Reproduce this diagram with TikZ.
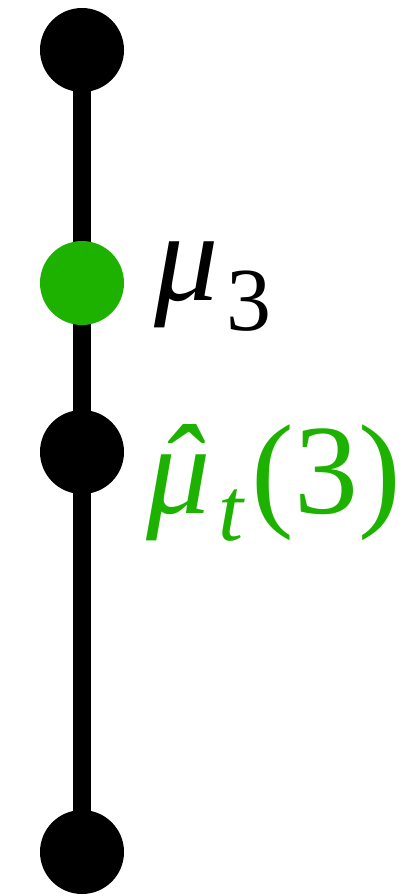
\documentclass[tikz,border=0pt]{standalone}
\usepackage{fontspec}
\setmainfont{Liberation Serif}
\usetikzlibrary{backgrounds}
\definecolor{mygreen}{RGB}{30,178,0}
\tikzset{
  dot/.style={circle,fill=black,minimum size=84bp,inner sep=0pt},
  gdot/.style={dot,fill=mygreen},
  lab/.style={anchor=base west,inner sep=0pt,font=\fontsize{128bp}{150bp}\selectfont},
  rod/.style={line width=18bp,draw=black}
}
\newcommand{\mysub}[2]{\raisebox{-#1}{\fontsize{90bp}{100bp}\selectfont #2}}
\begin{document}
\begin{tikzpicture}[x=1bp,y=-1bp]
\useasboundingbox (0,0) rectangle (411,896);
\node[dot] (n1) at (82,50) {};
\node[gdot] (n2) at (82,283) {};
\node[dot] (n3) at (82,452) {};
\node[dot] (n4) at (82,852) {};
\begin{scope}[on background layer]
\draw[rod] (n1.center) -- (n2.center) -- (n3.center) -- (n4.center);
\end{scope}
\node[lab] (l1) at (154,300) {\itshape μ\hspace{8bp}\mysub{30bp}{\upshape 3}};
\node[lab,text=mygreen] (l2) at (146,513) {\itshape\accent"02C6 μ\hspace{8bp}\mysub{27bp}{t}\hspace{8bp}\upshape (3)};
\end{tikzpicture}
\end{document}
